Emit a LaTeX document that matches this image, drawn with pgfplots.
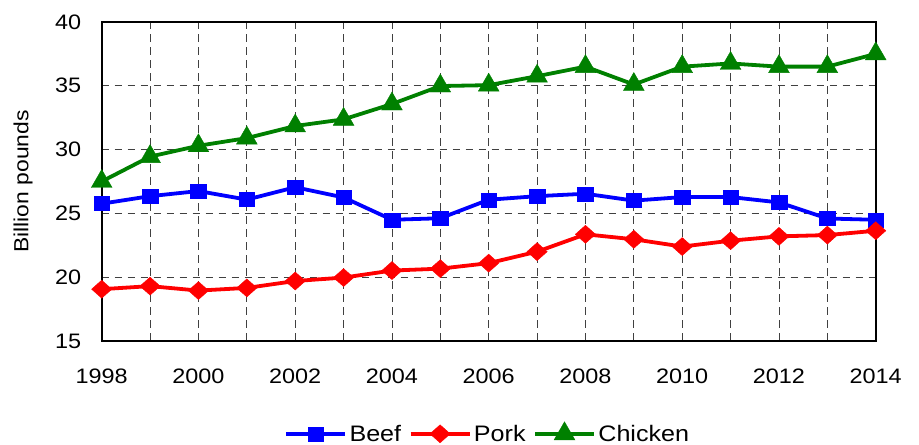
\documentclass[border=0pt]{standalone}
\usepackage{fontspec}
\setmainfont{Liberation Sans}[FakeStretch=1.12]
\usepackage{pgfplots}
\pgfplotsset{compat=1.18}
\usetikzlibrary{calc}
\definecolor{cgreen}{RGB}{0,128,0}
\begin{document}
\begin{tikzpicture}[x=1bp,y=1bp]
\useasboundingbox (0,0) rectangle (919,445);
\begin{axis}[
  at={(101.7bp,104bp)}, anchor=south west,
  scale only axis, width=774bp, height=319bp,
  xmin=1998, xmax=2014, ymin=15, ymax=40,
  xtick={1998,2000,...,2014},
  minor xtick={1999,2001,...,2013},
  ytick={15,20,...,40},
  grid=both,
  major grid style={black!75, dash pattern=on 7.5bp off 5.5bp, line width=0.9bp},
  minor grid style={black!75, dash pattern=on 7.5bp off 5.5bp, line width=0.9bp},
  axis line style={line width=1.8bp},
  major tick length=0pt, minor tick length=0pt,
  /pgf/number format/assume math mode=true,
  /pgf/number format/1000 sep={},
  ticklabel style={font=\fontsize{21}{23}\selectfont},
  xticklabel style={yshift=-24bp},
  yticklabel style={xshift=-17bp},
  ylabel={Billion pounds},
  every axis y label/.style={at={($(axis description cs:0,0.5)+(-78.7bp,0bp)$)}, anchor=center, rotate=90, font=\fontsize{20.5}{22}\selectfont},
  legend style={at={(0.499,-0.29)}, anchor=center, draw=none, font=\fontsize{22.5}{24}\selectfont,
    /tikz/every even column/.append style={column sep=5bp},
    nodes={inner sep=2.5bp}},
  legend columns=3,
  legend image code/.code={
    \draw[#1, mark repeat=2, mark phase=2] plot coordinates {(0bp,0bp) (29.5bp,0bp) (59bp,0bp)};
  },
]
\addplot[blue, line width=3.8bp, mark=square*, mark size=7bp, mark options={solid, line width=0.4bp, xscale=1.12}] coordinates {
(1998,25.76) (1999,26.35) (2000,26.75) (2001,26.08) (2002,27.05) (2003,26.25) (2004,24.5) (2005,24.62)
(2006,26.07) (2007,26.35) (2008,26.54) (2009,26.0) (2010,26.28) (2011,26.28) (2012,25.86) (2013,24.6) (2014,24.5)};
\addlegendentry{Beef}
\addplot[red, line width=3.8bp, mark=diamond*, mark size=9bp, mark options={solid, line width=0.4bp, xscale=1.5}] coordinates {
(1998,19.06) (1999,19.3) (2000,18.95) (2001,19.16) (2002,19.7) (2003,19.97) (2004,20.52) (2005,20.67)
(2006,21.1) (2007,22.0) (2008,23.36) (2009,22.97) (2010,22.4) (2011,22.86) (2012,23.2) (2013,23.3) (2014,23.64)};
\addlegendentry{Pork}
\addplot[cgreen, line width=3.8bp, mark=triangle*, mark size=12bp, mark options={solid, line width=0.4bp}] coordinates {
(1998,27.5) (1999,29.45) (2000,30.3) (2001,30.9) (2002,31.85) (2003,32.37) (2004,33.57) (2005,34.98)
(2006,35.05) (2007,35.75) (2008,36.5) (2009,35.1) (2010,36.5) (2011,36.75) (2012,36.5) (2013,36.5) (2014,37.5)};
\addlegendentry{Chicken}
\end{axis}
\end{tikzpicture}
\end{document}
